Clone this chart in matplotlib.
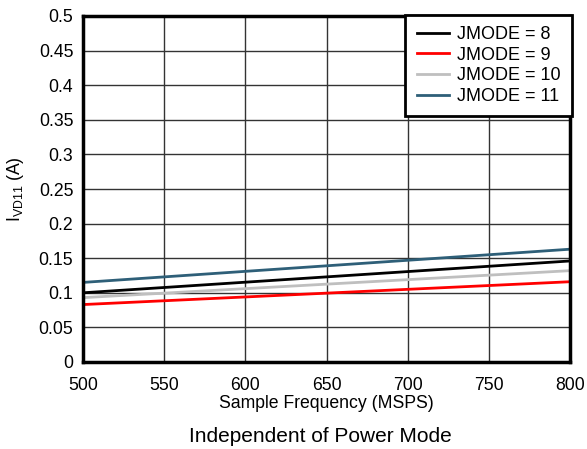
import matplotlib
matplotlib.use("Agg")
import matplotlib.pyplot as plt

plt.rcParams['font.family'] = ['Liberation Sans', 'DejaVu Sans']

freq = [500, 800]
jmode8 = [0.100, 0.146]
jmode9 = [0.083, 0.116]
jmode10 = [0.093, 0.132]
jmode11 = [0.115, 0.163]
labels = ['JMODE = 8', 'JMODE = 9', 'JMODE = 10', 'JMODE = 11']
colors = ['#000000', '#ff0000', '#bfbfbf', '#2e5f78']

fig = plt.figure(figsize=(5.87, 4.49), dpi=100)
ax = fig.add_axes([83/587, (449-362)/449, (570-83)/587, (362-16)/449])

for ys, lab, c in zip([jmode8, jmode9, jmode10, jmode11], labels, colors):
    ax.plot(freq, ys, color=c, lw=2, label=lab)

ax.set_xlim(500, 800)
ax.set_ylim(0, 0.5)
ax.set_xticks([500, 550, 600, 650, 700, 750, 800])
ax.set_yticks([0, 0.05, 0.1, 0.15, 0.2, 0.25, 0.3, 0.35, 0.4, 0.45, 0.5])
ax.set_yticklabels(['0', '0.05', '0.1', '0.15', '0.2', '0.25', '0.3', '0.35', '0.4', '0.45', '0.5'])
ax.grid(True, color='#333333', lw=1)
ax.set_axisbelow(True)
ax.tick_params(length=0, labelsize=12.7)
ax.tick_params(axis='y', pad=7)
ax.tick_params(axis='x', pad=10.5)
for s in ax.spines.values():
    s.set_linewidth(2.5)

ax.set_xlabel('Sample Frequency (MSPS)', fontsize=12.7, labelpad=1)
ax.set_ylabel(r'$\mathregular{I_{VD11}}$ (A)', fontsize=12.7, labelpad=9)

leg = ax.legend(loc='upper right', fontsize=13, frameon=True, fancybox=False,
                bbox_to_anchor=(1.004, 1.003), borderaxespad=0,
                handlelength=1.8, labelspacing=0.2,
                borderpad=0.62, handletextpad=0.45)
leg.get_frame().set_edgecolor('black')
leg.get_frame().set_linewidth(2)
leg.get_frame().set_alpha(1)

fig.text(320/587, 1 - 437/449, 'Independent of Power Mode', ha='center', va='center', fontsize=15)

fig.savefig('out.png', dpi=100)
